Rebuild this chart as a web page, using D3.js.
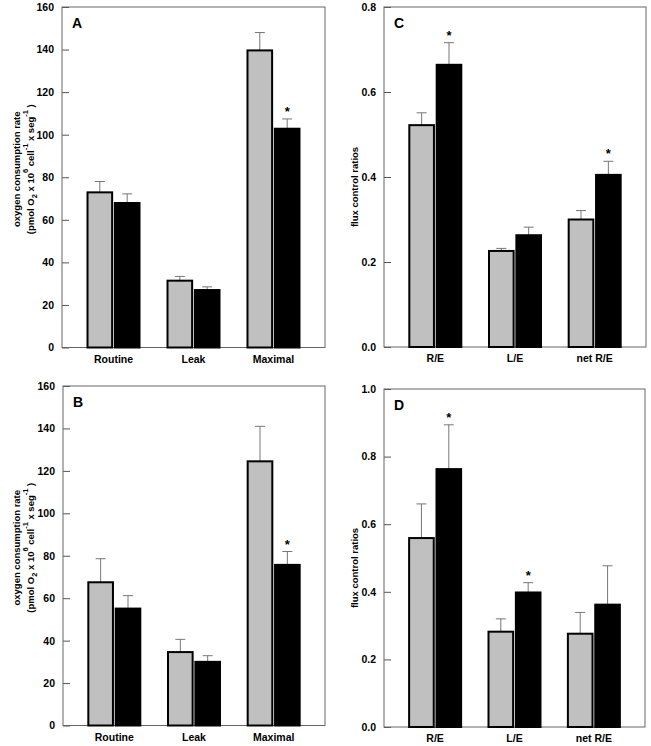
<!DOCTYPE html>
<html>
<head>
<meta charset="utf-8">
<script src="https://cdn.jsdelivr.net/npm/d3@7"></script>
<style>
  body { margin: 0; background: #fff; }
  text { font-family: "Liberation Sans", Arial, sans-serif; font-weight: bold; }
</style>
</head>
<body>
<div id="chart"></div>
<script>
// categories
const rateCats = ["Routine", "Leak", "Maximal"];
const ratioCats = ["R/E", "L/E", "net R/E"];

// panel A: oxygen consumption (grey = control, black = treated)
const aGrey = [72.9, 31.4, 139.6];
const aGreyErr = [5.1, 2.0, 8.4];
const aBlack = [67.9, 27.0, 102.8];
const aBlackErr = [4.3, 1.5, 4.6];
const aStars = [false, false, true];

// panel B
const bGrey = [67.5, 34.6, 124.5];
const bGreyErr = [11.1, 6.0, 16.5];
const bBlack = [55.1, 30.0, 75.7];
const bBlackErr = [6.1, 2.9, 6.3];
const bStars = [false, false, true];

// panel C: flux control ratios
const cGrey = [0.522, 0.226, 0.300];
const cGreyErr = [0.029, 0.006, 0.021];
const cBlack = [0.664, 0.263, 0.405];
const cBlackErr = [0.052, 0.019, 0.032];
const cStars = [true, false, true];

// panel D
const dGrey = [0.559, 0.282, 0.276];
const dGreyErr = [0.101, 0.038, 0.063];
const dBlack = [0.763, 0.398, 0.362];
const dBlackErr = [0.131, 0.029, 0.115];
const dStars = [true, true, false];

const rateTicks = [0, 20, 40, 60, 80, 100, 120, 140, 160];
const ratioTicksC = [0, 0.2, 0.4, 0.6, 0.8];
const ratioTicksD = [0, 0.2, 0.4, 0.6, 0.8, 1.0];

const svg = d3.select("#chart")
  .append("svg")
    .attr("width", 651)
    .attr("height", 746)

function panel(opt) {
  let w = opt.right - opt.left,
      h = opt.bottom - opt.top;

  const g = svg.append("g")
    .attr("transform", "translate(" + opt.left + "," + opt.top + ")")

  let y = d3.scaleLinear()
    .domain(opt.domain)
    .range([h, 0]);

  // centres of the three groups
  let x = d3.scalePoint()
    .domain(opt.cats)
    .range([0, w])
    .padding(0.644);

  // two bars inside a group
  let sub = d3.scaleBand()
    .domain(["grey", "black"])
    .range([-26, 26])
    .paddingInner(0.1);

  // y axis with inward ticks
  const yAxis = g.append("g")
    .call(d3.axisLeft(y)
      .tickValues(opt.ticks)
      .tickFormat(opt.fmt)
      .tickSizeInner(-7)
      .tickSizeOuter(0)
      .tickPadding(8))
  yAxis.select(".domain").remove()
  yAxis.selectAll(".tick line").attr("stroke", "#555")
  yAxis.selectAll("text")
    .style("font-size", "10.5px")
    .attr("fill", "#000")

  // frame
  g.append("rect")
    .attr("width", w)
    .attr("height", h)
    .attr("fill", "none")
    .attr("stroke", "#666")
    .attr("stroke-width", 1)

  const rows = opt.cats.map(function(c, i) {
    return [
      {cat: c, key: "grey", v: opt.grey[i], e: opt.greyErr[i], star: false},
      {cat: c, key: "black", v: opt.black[i], e: opt.blackErr[i], star: opt.stars[i]}
    ]
  }).flat();

  // error bars (upper half only), drawn behind bars
  const err = g.selectAll("myerr")
    .data(rows)
    .enter()
    .append("g")
    .attr("transform", d => "translate(" + (x(d.cat) + sub(d.key) + sub.bandwidth() / 2) + ",0)")
  err.append("line")
    .attr("y1", d => y(d.v))
    .attr("y2", d => y(d.v + d.e))
    .attr("stroke", "#777")
    .attr("stroke-width", 1)
  err.append("line")
    .attr("x1", -5)
    .attr("x2", 5)
    .attr("y1", d => y(d.v + d.e))
    .attr("y2", d => y(d.v + d.e))
    .attr("stroke", "#777")
    .attr("stroke-width", 1)

  // bars
  g.selectAll("mybars")
    .data(rows)
    .enter()
    .append("rect")
      .attr("x", d => x(d.cat) + sub(d.key))
      .attr("y", d => y(d.v))
      .attr("width", sub.bandwidth())
      .attr("height", d => h - y(d.v))
      .attr("fill", d => d.key === "grey" ? "#c0c0c0" : "#000")
      .attr("stroke", "#000")
      .attr("stroke-width", 2)

  // significance stars
  g.selectAll("mystars")
    .data(rows.filter(d => d.star))
    .enter()
    .append("text")
      .attr("x", d => x(d.cat) + sub(d.key) + sub.bandwidth() / 2)
      .attr("y", d => y(d.v + d.e) - 3)
      .attr("text-anchor", "middle")
      .style("font-size", "13px")
      .text("*")

  // category labels
  g.selectAll("mylabels")
    .data(opt.cats)
    .enter()
    .append("text")
      .attr("x", d => x(d))
      .attr("y", h + 15)
      .attr("text-anchor", "middle")
      .style("font-size", "10.5px")
      .text(d => d)

  // panel letter
  g.append("text")
    .attr("x", 10)
    .attr("y", 21)
    .style("font-size", "14px")
    .text(opt.letter)

  // y label
  const ylab = g.append("text")
    .attr("transform", "translate(" + opt.labX + "," + (h / 2 - opt.labShift) + ")rotate(-90)")
    .attr("text-anchor", "middle")
    .style("font-size", "9.5px")
  if (opt.rate) {
    ylab.append("tspan").attr("x", 0).attr("y", 0).text("oxygen consumption rate")
    const l2 = ylab.append("tspan").attr("x", 0).attr("y", 14)
    l2.append("tspan").text("(pmol O")
    l2.append("tspan").attr("dy", 3).style("font-size", "7.5px").text("2")
    l2.append("tspan").attr("dy", -3).text(" x 10")
    l2.append("tspan").attr("dy", -6).style("font-size", "7.5px").text("6")
    l2.append("tspan").attr("dy", 6).text(" cell")
    l2.append("tspan").attr("dy", -6).style("font-size", "7.5px").text("-1")
    l2.append("tspan").attr("dy", 6).text(" x seg")
    l2.append("tspan").attr("dy", -6).style("font-size", "7.5px").text("-1")
    l2.append("tspan").attr("dy", 6).text(" )")
  } else {
    ylab.text("flux control ratios")
  }
}

panel({left: 62, top: 7, right: 325, bottom: 347.5, letter: "A", cats: rateCats,
  domain: [0, 160], ticks: rateTicks, fmt: d3.format("d"),
  grey: aGrey, greyErr: aGreyErr, black: aBlack, blackErr: aBlackErr, stars: aStars,
  rate: true, labX: -42, labShift: 8})

panel({left: 384, top: 7, right: 646, bottom: 347, letter: "C", cats: ratioCats,
  domain: [0, 0.8], ticks: ratioTicksC, fmt: d3.format(".1f"),
  grey: cGrey, greyErr: cGreyErr, black: cBlack, blackErr: cBlackErr, stars: cStars,
  rate: false, labX: -26, labShift: -10})

panel({left: 63, top: 386, right: 325, bottom: 725.5, letter: "B", cats: rateCats,
  domain: [0, 160], ticks: rateTicks, fmt: d3.format("d"),
  grey: bGrey, greyErr: bGreyErr, black: bBlack, blackErr: bBlackErr, stars: bStars,
  rate: true, labX: -43, labShift: 8})

panel({left: 384, top: 389, right: 645, bottom: 727, letter: "D", cats: ratioCats,
  domain: [0, 1.0], ticks: ratioTicksD, fmt: d3.format(".1f"),
  grey: dGrey, greyErr: dGreyErr, black: dBlack, blackErr: dBlackErr, stars: dStars,
  rate: false, labX: -26, labShift: -10})
</script>
</body>
</html>
